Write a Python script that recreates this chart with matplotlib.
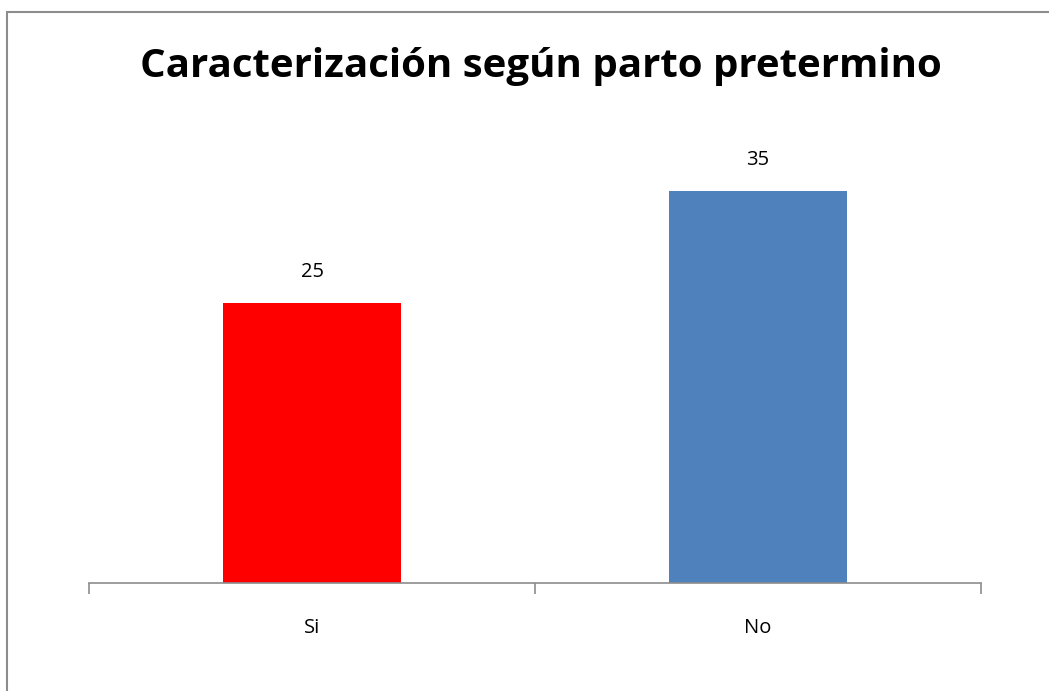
import matplotlib
matplotlib.use("Agg")
import matplotlib.pyplot as plt
from matplotlib.patches import Rectangle

categories = ["Si", "No"]
values = [25, 35]
colors = ["#FF0000", "#4F81BD"]
title = "Caracterización según parto pretermino"

W, H = 1049, 691
fig = plt.figure(figsize=(W / 100, H / 100), dpi=100)
fig.patch.set_facecolor("white")

# outer chart border (left and top visible)
fig.add_artist(Rectangle((6.5 / W, -0.1), 1.2, (H - 11.5) / H + 0.1,
                         transform=fig.transFigure, fill=False,
                         edgecolor="#8c8c8c", linewidth=1.5, clip_on=False))

ax = fig.add_axes([89 / W, (H - 583) / H, 892 / W, 448 / H])
x = list(range(len(categories)))
bars = ax.bar(x, values, width=0.4, color=colors)
ax.set_xlim(-0.5, len(categories) - 0.5)
ax.set_ylim(0, 40)

for s in ["top", "right", "left"]:
    ax.spines[s].set_visible(False)
ax.spines["bottom"].set_color("#8c8c8c")
ax.spines["bottom"].set_linewidth(1.2)
ax.set_yticks([])
ax.set_xticks([i - 0.5 for i in range(len(categories) + 1)])
ax.set_xticklabels([])
ax.tick_params(axis="x", which="major", length=8, width=1.2, color="#8c8c8c", direction="out")

for i, c in zip(x, categories):
    ax.annotate(c, (i, 0), xycoords=("data", "axes fraction"), xytext=(0, -32.5),
                textcoords="offset points", ha="center", va="center",
                fontsize=14.5, fontfamily="Open Sans")

for b, v in zip(bars, values):
    ax.annotate(str(v), (b.get_x() + b.get_width() / 2, v), xytext=(0, 22.5),
                textcoords="offset points", ha="center", va="center",
                fontsize=14.5, fontfamily="Open Sans")

fig.text(541 / W, 1 - 66 / H, title, ha="center", va="center",
         fontsize=29, fontweight="bold", fontfamily="Open Sans")

fig.savefig("out.png", dpi=100)
